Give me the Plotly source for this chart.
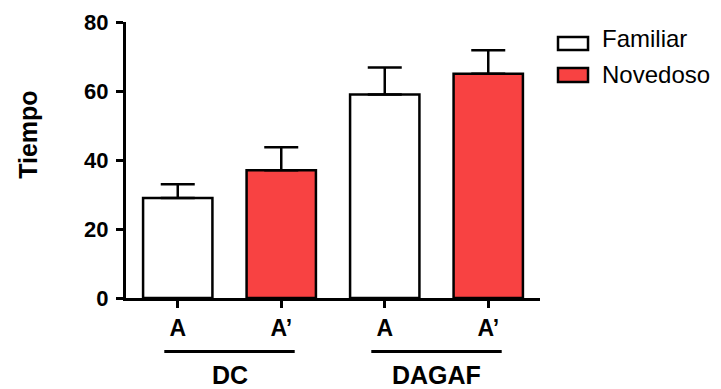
import plotly.graph_objects as go

# ---- data ----
categories = ["A", "A’", "A", "A’"]
groups = ["DC", "DAGAF"]
series_names = ["Familiar", "Novedoso"]
familiar_values = [29, 59]
familiar_errors = [4, 7.8]
novedoso_values = [37, 65]
novedoso_errors = [6.7, 6.8]
y_ticks = [0, 20, 40, 60, 80]

positions = list(range(len(categories)))
fam_pos = positions[0::2]
nov_pos = positions[1::2]

RED = "#F84242"
FONT = "Arial, Liberation Sans, sans-serif"

fig = go.Figure()
fig.add_trace(go.Bar(
    x=fam_pos, y=familiar_values, name=series_names[0], width=0.67,
    marker=dict(color="white", line=dict(color="black", width=2.5)),
    error_y=dict(type="data", array=familiar_errors, arrayminus=[0] * len(familiar_errors),
                 symmetric=False, color="black", thickness=2.5, width=17),
    showlegend=False,
))
fig.add_trace(go.Bar(
    x=nov_pos, y=novedoso_values, name=series_names[1], width=0.67,
    marker=dict(color=RED, line=dict(color="black", width=2.5)),
    error_y=dict(type="data", array=novedoso_errors, arrayminus=[0] * len(novedoso_errors),
                 symmetric=False, color="black", thickness=2.5, width=17),
    showlegend=False,
))

# page body has an 8px margin, so the figure is laid out 8px smaller/left/up
fig.update_layout(
    width=713, height=381,
    margin=dict(l=118, r=181, t=14, b=90.5, autoexpand=False),
    plot_bgcolor="white", paper_bgcolor="white",
    barmode="overlay",
    font=dict(family=FONT, color="black"),
    xaxis=dict(
        range=[-0.5, 3.5], tickmode="array", tickvals=positions, ticktext=categories,
        showline=True, linecolor="black", linewidth=3, showgrid=False, zeroline=False,
        ticks="outside", ticklen=7, tickwidth=3, tickcolor="black", automargin=False,
        tickfont=dict(size=23, weight="bold", family=FONT), ticklabelstandoff=0,
    ),
    yaxis=dict(
        range=[0, 80], tickmode="array", tickvals=y_ticks,
        showline=True, linecolor="black", linewidth=3, showgrid=False, zeroline=False,
        ticks="outside", ticklen=7, tickwidth=3, tickcolor="black", automargin=False,
        tickfont=dict(size=22, weight="bold", family=FONT), ticklabelstandoff=3,
    ),
)

# y-axis title
fig.add_annotation(text="<b>Tiempo</b>", textangle=-90, xref="paper", yref="y",
                   x=(28 - 126) / 414, y=47.3, xanchor="center", yanchor="middle",
                   showarrow=False, font=dict(size=25, family=FONT, color="black"))

# group underlines and labels
group_spans = [(-0.13, 1.13), (1.87, 3.13)]
for g, (a, b) in zip(groups, group_spans):
    fig.add_shape(type="line", xref="x", yref="paper", x0=a, x1=b,
                  y0=-0.1935, y1=-0.1935, line=dict(color="black", width=3))
    fig.add_annotation(text=f"<b>{g}</b>", xref="x", yref="paper", x=(a + b) / 2,
                       y=-0.280, xanchor="center", yanchor="middle", showarrow=False,
                       font=dict(size=25, family=FONT, color="black"))

# legend (manual)
legend_items = [(series_names[0], "white", 0.9458, 0.8987, 0.9385),
                (series_names[1], RED, 0.8336, 0.783, 0.808)]
for name, col, y0, y1, yt in legend_items:
    fig.add_shape(type="rect", xref="paper", yref="paper", x0=1.0435, x1=1.116,
                  y0=y1, y1=y0, fillcolor=col, line=dict(color="black", width=2.5))
    fig.add_annotation(text=name, xref="paper", yref="paper", x=1.145, y=yt,
                       xanchor="left", yanchor="middle", showarrow=False,
                       font=dict(size=24, family=FONT, color="black"))

fig.write_html("out.html")
